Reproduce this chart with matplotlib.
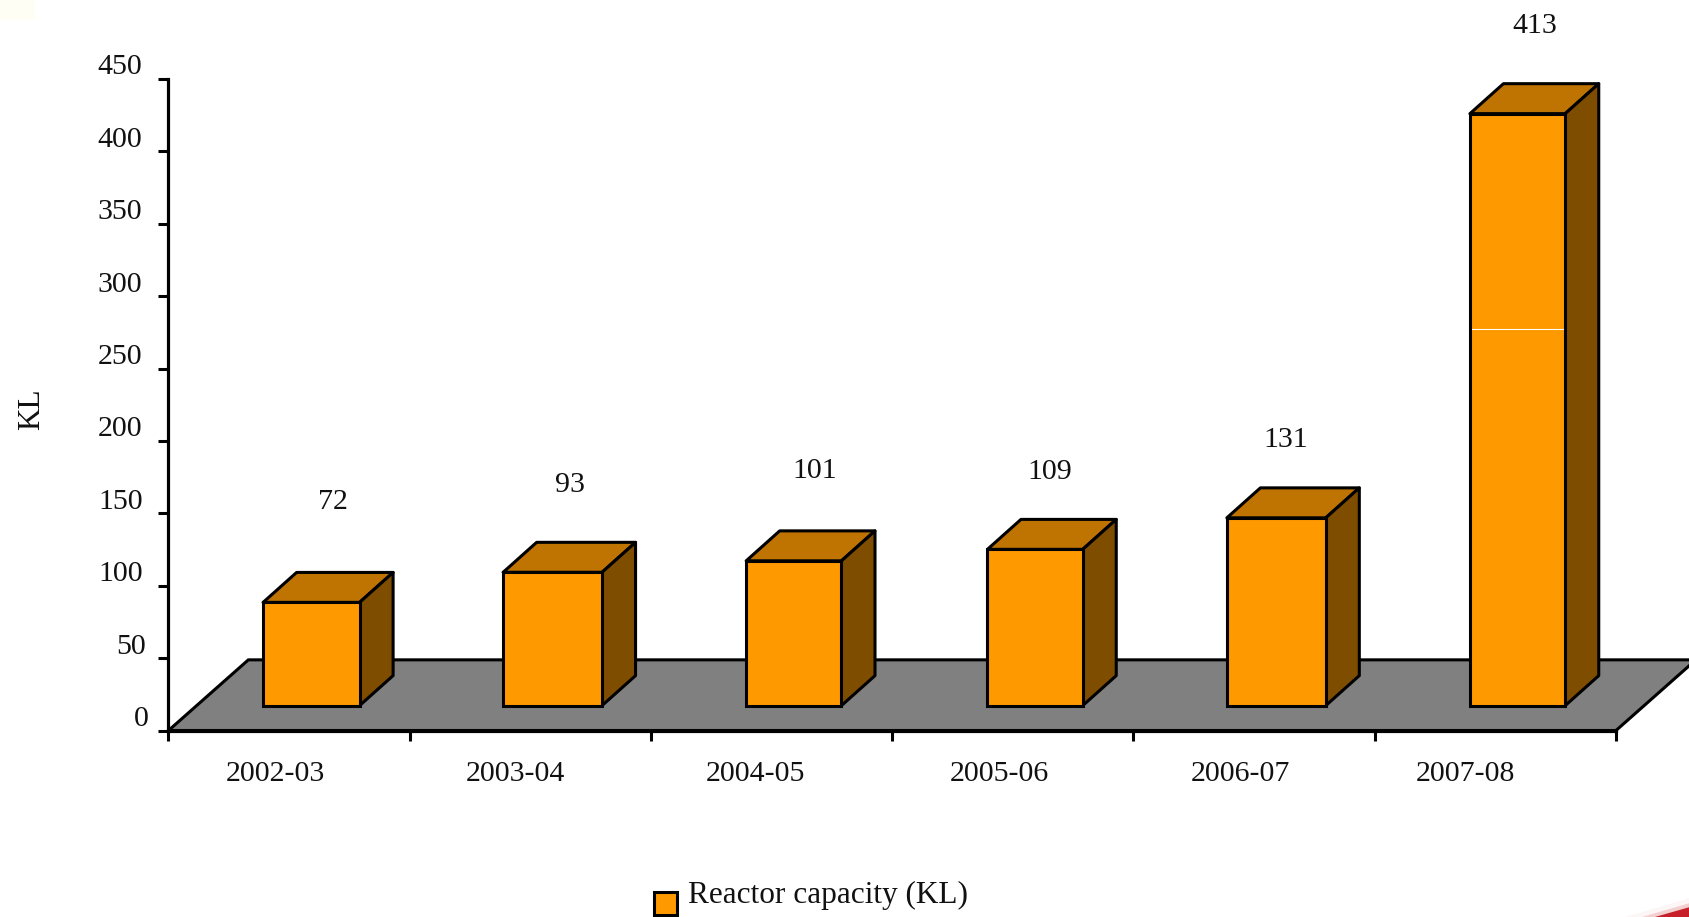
#!/usr/bin/env python3
"""Reactor capacity by year, drawn as fake 3D bars on a grey floor"""

import matplotlib
matplotlib.use('Agg')
import matplotlib.pyplot as plt
from matplotlib.patches import Polygon, Rectangle
from matplotlib.transforms import ScaledTranslation

years = ['2002-03', '2003-04', '2004-05', '2005-06', '2006-07', '2007-08']
capacity = [72, 93, 101, 109, 131, 413]
y_ticks = [0, 50, 100, 150, 200, 250, 300, 350, 400, 450]

# label placement, in pixels (the original placed these by hand)
year_shift = [-14, -15, -16, -14, -14, -30]
value_dx = [22, 17, 21, 14.5, 9.5, 17.5]
value_dy = [100, 87, 90, 77, 78, 88]
bar_widths = [0.4, 0.41, 0.395, 0.395, 0.41, 0.395]

W, H = 1690, 917
FRONT, TOP, SIDE = '#FF9900', '#BF7300', '#7F4D00'
FLOOR = '#808080'
INK = '#111111'
FONT = 'Liberation Serif'
FS = 21.5

plt.rcParams['font.family'] = FONT

fig = plt.figure(figsize=(W / 100, H / 100), dpi=100, facecolor='white')
ax = fig.add_axes([168.5 / W, 1 - 730.5 / H, (1616 - 168.5) / W, (730.5 - 79) / H])
ax.set_xlim(0, 6)
ax.set_ylim(0, 450)
ax.patch.set_visible(False)

# depth of the floor and of one bar, in data units
floor_dx, floor_dy = 0.331, 48.8
bar_dx, bar_dy = 0.139, 20.7
bar_base = 17.2
bar_scale = 0.99  # bars sit on a plane slightly behind the axis
edge = 2.2

# Floor
ax.add_patch(Polygon([(0, 0), (6, 0), (6 + floor_dx, floor_dy), (floor_dx, floor_dy)],
                     closed=True, facecolor=FLOOR, edgecolor='k', linewidth=2.2,
                     clip_on=False, zorder=1))

# Bars: front face from ax.bar, then top and side polygons
centers = [i + 0.592 for i in range(len(capacity))]
heights = [v * bar_scale for v in capacity]
ax.bar(centers, heights, width=bar_widths, bottom=bar_base, color=FRONT,
       edgecolor='k', linewidth=edge, zorder=3, clip_on=False)

for cx, w, h in zip(centers, bar_widths, heights):
    x0, x1 = cx - w / 2, cx + w / 2
    y0, y1 = bar_base, bar_base + h
    ax.add_patch(Polygon([(x0, y1), (x1, y1), (x1 + bar_dx, y1 + bar_dy), (x0 + bar_dx, y1 + bar_dy)],
                         closed=True, facecolor=TOP, edgecolor='k', linewidth=edge,
                         joinstyle='round', clip_on=False, zorder=2.5))
    ax.add_patch(Polygon([(x1, y0), (x1 + bar_dx, y0 + bar_dy), (x1 + bar_dx, y1 + bar_dy), (x1, y1)],
                         closed=True, facecolor=SIDE, edgecolor='k', linewidth=edge,
                         joinstyle='round', clip_on=False, zorder=2.5))

# thin white seam across the last bar
ax.plot([centers[-1] - bar_widths[-1] / 2 + 0.008, centers[-1] + bar_widths[-1] / 2 - 0.008], [277.5, 277.5],
        color='white', linewidth=0.8, zorder=4)

# Value labels
for cx, h, v, dx, dy in zip(centers, heights, capacity, value_dx, value_dy):
    ax.annotate(str(v), xy=(cx, bar_base + h), xytext=(dx, dy), textcoords='offset pixels',
                ha='center', va='center', fontsize=FS, color=INK, annotation_clip=False, zorder=5)

# Axes
for side in ['top', 'right']:
    ax.spines[side].set_visible(False)
for side in ['left', 'bottom']:
    ax.spines[side].set_linewidth(2.3)
    ax.spines[side].set_zorder(6)

ax.set_yticks(y_ticks)
ax.tick_params(axis='y', length=7.2, width=2.2, labelsize=FS, labelcolor=INK, pad=11.5)
for lab, val in zip(ax.get_yticklabels(), y_ticks):
    shift_x = {0: 6, 50: 3}.get(val, 0)
    lab.set_transform(lab.get_transform() + ScaledTranslation(shift_x / 100, 14.5 / 100, fig.dpi_scale_trans))

ax.set_xticks(range(7))
ax.set_xticklabels([''] * 7)
ax.tick_params(axis='x', which='major', length=7.2, width=2.2)
ax.set_xticks([i + 0.5 + s / 241.5 for i, s in enumerate(year_shift)], labels=years, minor=True)
ax.tick_params(axis='x', which='minor', length=0, labelsize=FS, labelcolor=INK, pad=22)

fig.text(32 / W, 1 - 409 / H, 'KL', rotation=90, ha='center', va='center', fontsize=FS + 1, color=INK)

# Legend, placed by hand: the swatch hangs below the text
fig.add_artist(Rectangle((654 / W, 1 - 915 / H), 23 / W, 23 / H, transform=fig.transFigure,
                         facecolor=FRONT, edgecolor='k', linewidth=edge))
fig.text(688 / W, 1 - 895 / H, 'Reactor capacity (KL)', ha='left', va='center',
         fontsize=22.5, color=INK)

# Slide background leftovers in two corners
def corner(points, color):
    fig.add_artist(Polygon([(x / W, 1 - y / H) for x, y in points], closed=True,
                           transform=fig.transFigure, facecolor=color, edgecolor='none'))

corner([(0, 0), (35, 0), (35, 20), (0, 20)], '#FFFEF5')
corner([(1625, 917), (1690, 898), (1690, 917)], '#FDF6F6')
corner([(1642, 917), (1690, 903), (1690, 917)], '#F3CFCF')
corner([(1655, 917), (1690, 907), (1690, 917)], '#C8202A')

fig.savefig('out.png', dpi=100, facecolor='white')
plt.close(fig)
